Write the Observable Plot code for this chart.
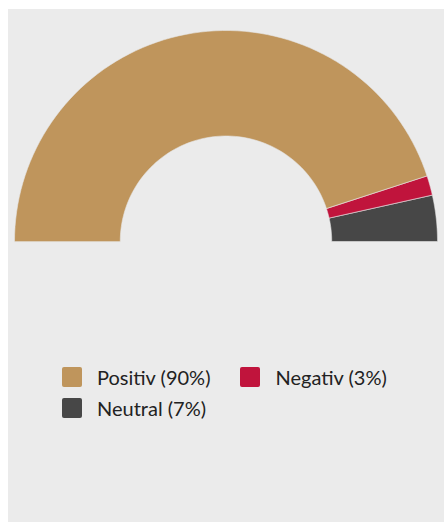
<!DOCTYPE html>
<html>
<head>
<meta charset="utf-8">
<script src="https://cdn.jsdelivr.net/npm/d3@7"></script>
<script src="https://cdn.jsdelivr.net/npm/@observablehq/plot@0.6"></script>
<style>
  html, body { margin: 0; padding: 0; background: #ffffff; }
  #panel { position: absolute; left: 8px; top: 9px; width: 436px; height: 513px; background: #ebebeb; font-family: Lato, "Open Sans", sans-serif; overflow: hidden; }
  #chart svg { display: block; background: transparent; }
  #legend { position: absolute; left: 54px; top: 352px; width: 360px; font-size: 20px; color: #222; }
  .item { display: inline-flex; align-items: center; height: 31px; margin-right: 30px; white-space: nowrap; }
  .sw { width: 20px; height: 20px; border-radius: 2px; margin-right: 15px; }
</style>
</head>
<body>
<div id="panel">
  <div id="chart"></div>
  <div id="legend"></div>
</div>
<script>
const categories = ["Positiv", "Negativ", "Neutral"];
const shares = [90, 3, 7];
const colors = ["#bf955c", "#c0143c", "#474747"];
const legendLabels = ["Positiv (90%)", "Negativ (3%)", "Neutral (7%)"];

const innerRatio = 0.5;
const total = d3.sum(shares);
let cum = 0;
const pts = [];
categories.forEach((c, i) => {
  const f0 = cum / total;
  cum += shares[i];
  const f1 = cum / total;
  const steps = 80;
  for (let k = 0; k <= steps; k++) {
    const t = Math.PI * (1 - (f0 + (f1 - f0) * k / steps));
    pts.push({cat: c, x: Math.cos(t), y: Math.sin(t)});
  }
  for (let k = steps; k >= 0; k--) {
    const t = Math.PI * (1 - (f0 + (f1 - f0) * k / steps));
    pts.push({cat: c, x: innerRatio * Math.cos(t), y: innerRatio * Math.sin(t)});
  }
});

const chart = Plot.plot({
  width: 436,
  height: 250,
  marginLeft: 6, marginRight: 7, marginTop: 21, marginBottom: 18,
  x: {domain: [-1, 1], axis: null},
  y: {domain: [0, 1], axis: null},
  color: {domain: categories, range: colors},
  style: {background: "transparent"},
  marks: [
    Plot.line(pts, {x: "x", y: "y", z: "cat", fill: "cat", stroke: "#e6e6e6", strokeWidth: 0.6, curve: "linear-closed"})
  ]
});
document.getElementById("chart").appendChild(chart);

const legend = document.getElementById("legend");
categories.forEach((c, i) => {
  const it = document.createElement("span");
  it.className = "item";
  const sw = document.createElement("span");
  sw.className = "sw";
  sw.style.background = colors[i];
  const tx = document.createElement("span");
  tx.textContent = legendLabels[i];
  it.appendChild(sw); it.appendChild(tx);
  legend.appendChild(it);
});
</script>
</body>
</html>
